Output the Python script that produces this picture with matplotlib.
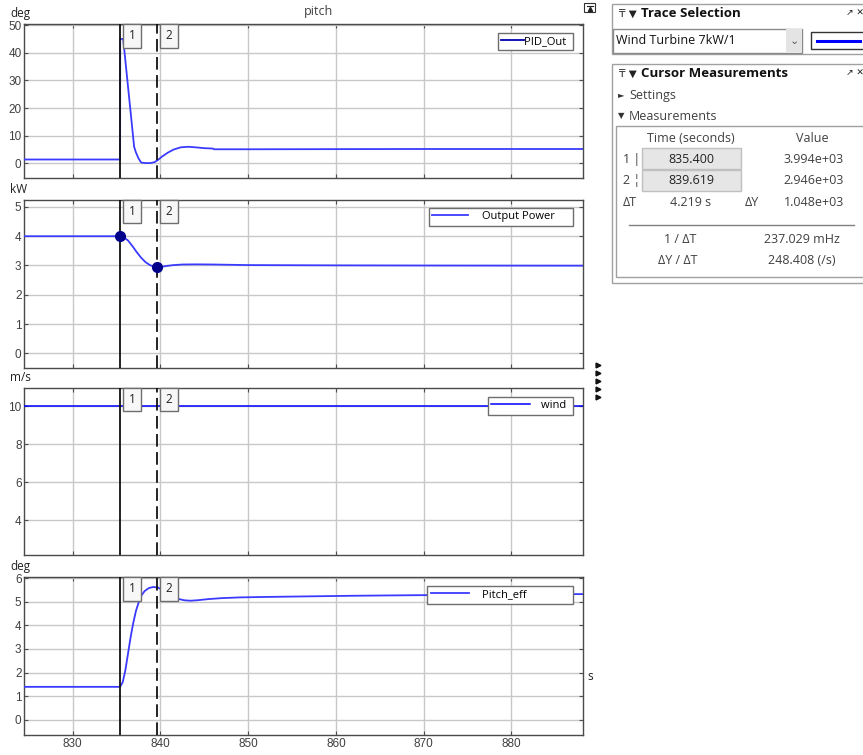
import matplotlib
matplotlib.use("Agg")
import matplotlib.pyplot as plt
from matplotlib.patches import Rectangle
import matplotlib.transforms as mtransforms

plt.rcParams['font.family'] = ['Liberation Sans', 'DejaVu Sans']

# ─────────────────────────────────────────────────────────────
# Data
# ─────────────────────────────────────────────────────────────
x_limits = (824.48, 888.2)
x_ticks = [830, 840, 850, 860, 870, 880]

cursor_times = [835.400, 839.619]
cursor_values = [3.994, 2.946]   # kW, Output Power at the cursors

pid_t = [824.5, 835.4, 835.41, 835.75, 836.0, 836.3, 836.6, 836.9, 837.0, 837.2,
         837.5, 837.8, 838.3, 838.8, 839.3, 839.7, 840.2, 840.8, 841.5, 842.3,
         843.2, 844.0, 845.0, 846.0, 846.1, 850.0, 860.0, 870.0, 888.2]
pid_v = [1.4, 1.4, 45.0, 45.0, 37.2, 27.8, 18.5, 9.1, 6.0, 4.0,
         1.8, 0.3, 0.1, 0.1, 0.4, 1.2, 2.5, 3.8, 5.0, 5.8,
         6.0, 5.8, 5.5, 5.35, 5.1, 5.1, 5.15, 5.2, 5.2]

power_t = [824.5, 835.4, 835.8, 836.3, 836.8, 837.3, 837.8, 838.3, 838.8, 839.2,
           839.619, 840.1, 840.7, 841.5, 842.5, 844.0, 846.0, 850.0, 860.0, 870.0, 888.2]
power_v = [3.994, 3.994, 3.96, 3.85, 3.66, 3.45, 3.26, 3.11, 3.01, 2.96,
           2.946, 2.95, 2.98, 3.01, 3.03, 3.035, 3.03, 3.01, 3.0, 2.995, 2.99]

wind_t = [824.5, 888.2]
wind_v = [10.0, 10.0]

peff_t = [824.5, 835.4, 835.7, 836.0, 836.3, 836.6, 836.9, 837.2, 837.5, 837.8,
          838.2, 838.7, 839.2, 839.7, 840.2, 840.8, 841.4, 842.0, 842.7, 843.4,
          844.2, 845.5, 847.0, 849.0, 852.0, 856.0, 862.0, 868.0, 875.0, 882.0, 888.2]
peff_v = [1.4, 1.4, 1.6, 2.1, 2.8, 3.5, 4.1, 4.6, 4.95, 5.25,
          5.45, 5.58, 5.62, 5.6, 5.5, 5.35, 5.22, 5.12, 5.06, 5.04,
          5.06, 5.11, 5.15, 5.18, 5.2, 5.22, 5.25, 5.27, 5.29, 5.31, 5.32]

panel_units = ["deg", "kW", "m/s", "deg"]
panel_labels = ["PID_Out", "Output Power", "wind", "Pitch_eff"]
panel_ylims = [(-5.4, 50.3), (-0.49, 5.23), (2.16, 10.95), (-0.635, 6.03)]
panel_yticks = [[0, 10, 20, 30, 40, 50], [0, 1, 2, 3, 4, 5], [4, 6, 8, 10], [0, 1, 2, 3, 4, 5, 6]]
panel_series = [(pid_t, pid_v), (power_t, power_v), (wind_t, wind_v), (peff_t, peff_v)]

# ─────────────────────────────────────────────────────────────
# Layout (pixel boxes of the four scope panels)
# ─────────────────────────────────────────────────────────────
W, H = 863, 755
panel_px = [(24.3, 583.3, 24.3, 178.3),
            (24.3, 583.3, 200.0, 367.7),
            (24.3, 583.3, 388.0, 555.0),
            (24.3, 583.3, 577.3, 735.0)]
legend_top = [0.945, 0.952, 0.946, 0.945]
# legend look: (handlelength, handletextpad, trailing padding)
legend_style = [(2.0, 0.05, 1), (3.2, 1.3, 5), (3.5, 1.0, 1), (3.5, 1.1, 15)]

fig = plt.figure(figsize=(W / 100, H / 100), dpi=100)

# overlay in pixel coordinates for the UI chrome
ui = fig.add_axes([0, 0, 1, 1], zorder=0)
ui.set_xlim(0, W)
ui.set_ylim(H, 0)
ui.axis('off')

UI_FONT = ['Open Sans', 'DejaVu Sans']
TXT = '#404040'
line_blue = '#3b3bff'
PIN = "\u20b8"   # pin glyph look-alike

for i, (l, r, t, b) in enumerate(panel_px):
    ax = fig.add_axes([l / W, 1 - b / H, (r - l) / W, (b - t) / H], zorder=2)
    ts, vs = panel_series[i]
    color = '#0000ff' if i == 2 else line_blue
    lw = 1.1 if i == 2 else 1.3
    hl, htp, npad = legend_style[i]
    ax.plot(ts, vs, color=color, lw=lw, label=panel_labels[i] + "\u00a0" * npad, zorder=3)

    ax.set_xlim(*x_limits)
    ax.set_ylim(*panel_ylims[i])
    ax.set_xticks(x_ticks)
    ax.set_yticks(panel_yticks[i])
    ax.grid(True, color='#c8c8c8', lw=1.0)
    ax.set_axisbelow(True)
    ax.tick_params(direction='in', length=3, width=0.8, colors='#505050',
                   top=True, right=True, labelsize=8.5, pad=2, labelcolor=TXT)
    if i < 3:
        ax.tick_params(labelbottom=False)
    for sp in ax.spines.values():
        sp.set_color('#4a4a4a')
        sp.set_linewidth(1.0)

    # cursors
    ax.axvline(cursor_times[0], color='#111111', lw=1.3, zorder=4)
    ax.axvline(cursor_times[1], color='#111111', lw=1.3, ls=(0, (7, 3)), zorder=4)
    trans = mtransforms.blended_transform_factory(ax.transData, ax.transAxes)
    for k, ct in enumerate(cursor_times):
        ax.annotate(str(k + 1), xy=(ct, 1.0), xycoords=trans,
                    xytext=(8.5, -5), textcoords='offset pixels',
                    ha='left', va='top', fontsize=8.5, color='#222222',
                    family=UI_FONT, zorder=6,
                    bbox=dict(boxstyle='square,pad=0.45', fc='#f7f7f7',
                              ec='#6e6e6e', lw=1.0))

    if i == 1:
        ax.plot(cursor_times, cursor_values, 'o', color='#00008b', ms=7, zorder=5)

    leg = ax.legend(loc='upper right', bbox_to_anchor=(0.981, legend_top[i]),
                    fancybox=False, framealpha=1, edgecolor='#6e6e6e',
                    prop={'family': UI_FONT, 'size': 8}, borderpad=0.3,
                    handlelength=hl, handletextpad=htp, borderaxespad=0)
    leg.get_frame().set_linewidth(1.0)
    leg.set_zorder(7)
    if i == 0:
        leg.get_lines()[0].set_color('#0000b0')

    # unit label above the panel
    ui.text(10, t - 4, panel_units[i], fontsize=8.5, color='#202020',
            family=UI_FONT, va='bottom', ha='left')

ui.text(318, 12, "pitch", fontsize=9, color=TXT, family=UI_FONT, ha='center', va='center')
ui.text(587, 676, "s", fontsize=8.5, color='#202020', family=UI_FONT, va='center')

# small icons next to the scope
ui.add_patch(Rectangle((584, 3), 11, 9, fc='white', ec='#333333', lw=0.8))
ui.plot([586.5, 592.5], [5.5, 5.5], color='#222222', lw=0.8)
ui.plot(589.5, 8.5, marker='^', color='#222222', ms=3)
for yy in [365, 373, 381, 389, 397]:
    ui.plot(598, yy, marker='>', color='#111111', ms=3.5)

# ─────────────────────────────────────────────────────────────
# Trace Selection panel
# ─────────────────────────────────────────────────────────────
ui.add_patch(Rectangle((612, 4), 260, 50, fc='white', ec='#a0a0a0', lw=1.0))
ui.text(619, 13.5, PIN + " \u25bc", fontsize=7.5, va='center', family='DejaVu Sans', color='#222222')
ui.text(641, 13.5, "Trace Selection", fontsize=9.5, fontweight='bold', va='center',
        family=UI_FONT, color='#111111')
ui.text(846, 13.5, "\u2197 \u2715", fontsize=6.5, va='center', family='DejaVu Sans', color='#222222')
ui.add_patch(Rectangle((613, 28.5), 188.5, 24, fc='white', ec='#8a8a8a', lw=1.0))
ui.add_patch(Rectangle((786, 29), 15.5, 23, fc='#e4e4e4', ec='none'))
ui.text(794, 40.5, "\u2304", fontsize=8, ha='center', va='center', family='DejaVu Sans', color='#555555')
ui.text(616, 40.5, "Wind Turbine 7kW/1", fontsize=9, va='center', family=UI_FONT, color='#111111')
ui.add_patch(Rectangle((811, 32), 60, 17, fc='white', ec='#333333', lw=1.0))
ui.plot([817, 860], [40.5, 40.5], color='#0000ff', lw=2.2)

# ─────────────────────────────────────────────────────────────
# Cursor Measurements panel
# ─────────────────────────────────────────────────────────────
ui.add_patch(Rectangle((612, 64), 260, 219, fc='white', ec='#a0a0a0', lw=1.0))
ui.text(619, 73.5, PIN + " \u25bc", fontsize=7.5, va='center', family='DejaVu Sans', color='#222222')
ui.text(641, 73.5, "Cursor Measurements", fontsize=9.5, fontweight='bold', va='center',
        family=UI_FONT, color='#111111')
ui.text(846, 73.5, "\u2197 \u2715", fontsize=6.5, va='center', family='DejaVu Sans', color='#222222')
ui.text(618, 95, "\u25ba", fontsize=6, va='center', family='DejaVu Sans', color='#333333')
ui.text(629, 95, "Settings", fontsize=9, va='center', family=UI_FONT, color=TXT)
ui.text(618, 116, "\u25bc", fontsize=6, va='center', family='DejaVu Sans', color='#333333')
ui.text(629, 116, "Measurements", fontsize=9, va='center', family=UI_FONT, color=TXT)

ui.add_patch(Rectangle((616, 126), 256, 151, fc='white', ec='#a0a0a0', lw=1.0))
ui.text(691, 138.5, "Time (seconds)", fontsize=9, ha='center', va='center', family=UI_FONT, color=TXT)
ui.text(812, 138.5, "Value", fontsize=9, ha='center', va='center', family=UI_FONT, color=TXT)

meas_rows = [("1 |", "835.400", "3.994e+03", 159.5, 148.3),
             ("2 \u00a6", "839.619", "2.946e+03", 180.5, 170.0)]
for tag, tval, val, yc, ytop in meas_rows:
    ui.add_patch(Rectangle((642.3, ytop), 98.4, 20.5, fc='#e6e6e6', ec='#c0c0c0', lw=1.0))
    ui.text(623, yc, tag, fontsize=9, va='center', family=UI_FONT, color=TXT)
    ui.text(691, yc, tval, fontsize=9, ha='center', va='center', family=UI_FONT, color='#222222')
    ui.text(814, yc, val, fontsize=9, ha='center', va='center', family=UI_FONT, color=TXT)

ui.text(630, 202, "\u0394T", fontsize=9, ha='center', va='center', family=UI_FONT, color=TXT)
ui.text(691, 202, "4.219 s", fontsize=9, ha='center', va='center', family=UI_FONT, color=TXT)
ui.text(752, 202, "\u0394Y", fontsize=9, ha='center', va='center', family=UI_FONT, color=TXT)
ui.text(814, 202, "1.048e+03", fontsize=9, ha='center', va='center', family=UI_FONT, color=TXT)
ui.plot([629, 854], [224.5, 224.5], color='#808080', lw=1.0)
ui.text(680, 239.5, "1 / \u0394T", fontsize=9, ha='center', va='center', family=UI_FONT, color=TXT)
ui.text(802, 239.5, "237.029 mHz", fontsize=9, ha='center', va='center', family=UI_FONT, color=TXT)
ui.text(678, 260.5, "\u0394Y / \u0394T", fontsize=9, ha='center', va='center', family=UI_FONT, color=TXT)
ui.text(802, 260.5, "248.408 (/s)", fontsize=9, ha='center', va='center', family=UI_FONT, color=TXT)

fig.savefig("out.png", dpi=100)
